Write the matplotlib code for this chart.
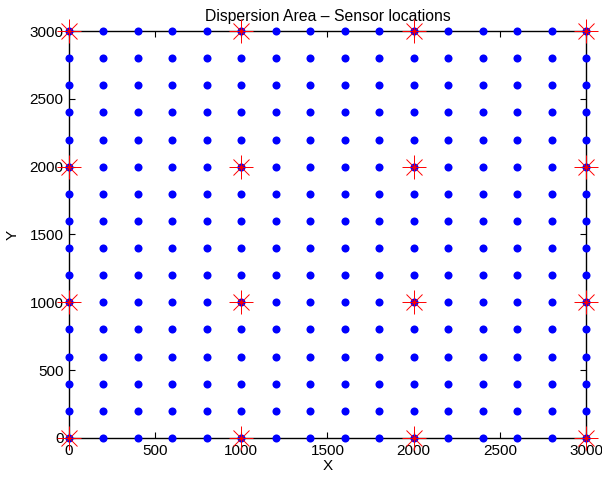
import matplotlib
matplotlib.use("Agg")
import matplotlib.pyplot as plt
import numpy as np

plt.rcParams['font.family'] = ['Liberation Sans', 'DejaVu Sans']

# Dispersion grid coordinates
grid_x = [0, 200, 400, 600, 800, 1000, 1200, 1400, 1600, 1800, 2000, 2200, 2400, 2600, 2800, 3000]
grid_y = [0, 200, 400, 600, 800, 1000, 1200, 1400, 1600, 1800, 2000, 2200, 2400, 2600, 2800, 3000]
# Sensor coordinates
sensor_x = [0, 1000, 2000, 3000]
sensor_y = [0, 1000, 2000, 3000]
xticks = [0, 500, 1000, 1500, 2000, 2500, 3000]
yticks = [0, 500, 1000, 1500, 2000, 2500, 3000]

fig = plt.figure(figsize=(6.02, 4.83), dpi=100)
ax = fig.add_axes([0.1146, 0.0932, 0.8588, 0.8426])

GX, GY = np.meshgrid(grid_x, grid_y)
ax.plot(GX.ravel(), GY.ravel(), 'o', color='#0000ff', markersize=5.8,
        markeredgewidth=0, clip_on=False, zorder=3)
SX, SY = np.meshgrid(sensor_x, sensor_y)
ax.plot(SX.ravel(), SY.ravel(), linestyle='none', marker='+', color='#ff0000',
        markersize=17, markeredgewidth=0.7, clip_on=False, zorder=4)
ax.plot(SX.ravel(), SY.ravel(), linestyle='none', marker='x', color='#ff0000',
        markersize=12, markeredgewidth=0.7, clip_on=False, zorder=4)

ax.set_xlim(0, 3000)
ax.set_ylim(0, 3000)
ax.set_xticks(xticks)
ax.set_yticks(yticks)
ax.tick_params(direction='in', top=True, right=True, length=4, width=0.8,
               labelsize=11, pad=4)
for s in ax.spines.values():
    s.set_linewidth(1.0)
    s.set_zorder(2)
ax.set_title('Dispersion Area \u2013 Sensor locations', fontsize=11.3, pad=7)
ax.set_xlabel('X', fontsize=11, labelpad=1)
ax.set_ylabel('Y', fontsize=11, labelpad=7)

fig.savefig('out.png', dpi=100)
